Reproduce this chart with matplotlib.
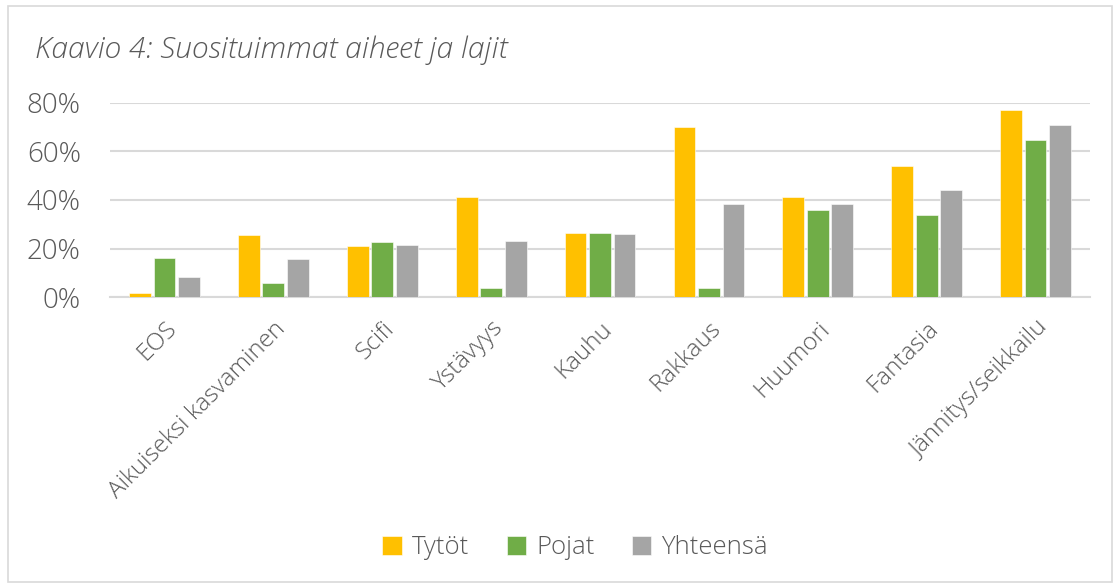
import matplotlib
matplotlib.use("Agg")
import matplotlib.pyplot as plt
import numpy as np
from matplotlib.patches import Rectangle
from matplotlib.ticker import PercentFormatter

categories = ["EOS", "Aikuiseksi kasvaminen", "Scifi", "Ystävyys", "Kauhu",
              "Rakkaus", "Huumori", "Fantasia", "Jännitys/seikkailu"]
series_names = ["Tytöt", "Pojat", "Yhteensä"]
tytot = [1.9, 25.5, 21.2, 41.4, 26.3, 70.0, 41.4, 54.0, 76.8]
pojat = [16.0, 5.8, 22.6, 3.8, 26.4, 3.8, 35.8, 33.8, 64.7]
yhteensa = [8.2, 15.8, 21.5, 23.2, 25.9, 38.4, 38.4, 44.1, 70.7]
yticks = [0, 20, 40, 60, 80]
title = "Kaavio 4: Suosituimmat aiheet ja lajit"

colors = ["#FFC000", "#70AD47", "#A5A5A5"]
text_color = "#595959"
plt.rcParams['font.family'] = ['Open Sans', 'DejaVu Sans']

fig = plt.figure(figsize=(11.19, 5.88), dpi=100)
fig.patches.append(Rectangle((8/1119, 6/588), 1104/1119, 576/588, transform=fig.transFigure,
                             fill=False, edgecolor="#D9D9D9", linewidth=1.2))
ax = fig.add_axes([110/1119, (588-297.3)/588, 980/1119, (297.3-102.7)/588])

x = np.arange(len(categories))
w = 0.2
step = 0.225
for i, (vals, name) in enumerate(zip([tytot, pojat, yhteensa], series_names)):
    ax.bar(x + (i - 1) * step, vals, width=w, color=colors[i], label=name, zorder=3,
           edgecolor="white", linewidth=0.4)

ax.set_xlim(-0.5, len(categories) - 0.5)
ax.set_ylim(0, 80)
ax.set_yticks(yticks)
ax.yaxis.set_major_formatter(PercentFormatter(decimals=0))
ax.grid(axis="y", color="#D9D9D9", linewidth=1.5, zorder=0)
for s in ["top", "right", "left"]:
    ax.spines[s].set_visible(False)
ax.spines["bottom"].set_color("#D9D9D9")
ax.spines["bottom"].set_linewidth(1.5)
ax.tick_params(axis="both", length=0, colors=text_color)
ax.tick_params(axis="y", pad=21, labelsize=20)
ax.set_xticks(x)
ax.set_xticklabels(categories, rotation=45, ha="right", rotation_mode="anchor",
                   fontsize=17.5, color=text_color, fontweight="light")
for lbl in ax.get_yticklabels():
    lbl.set_fontweight("light")
ax.tick_params(axis="x", pad=14)

fig.text(35/1119, 1 - 50/588, title, fontsize=21.6, style="italic", color=text_color,
         va="center", ha="left", fontweight="light")

leg = fig.legend(loc="center", bbox_to_anchor=(0.514, 1 - 548/588), ncol=3, frameon=False,
                 fontsize=18.5, handlelength=0.75, handleheight=0.75, handletextpad=0.4,
                 columnspacing=1.45)
for t in leg.get_texts():
    t.set_color(text_color)
    t.set_fontweight("light")

fig.savefig("out.png", dpi=100)
